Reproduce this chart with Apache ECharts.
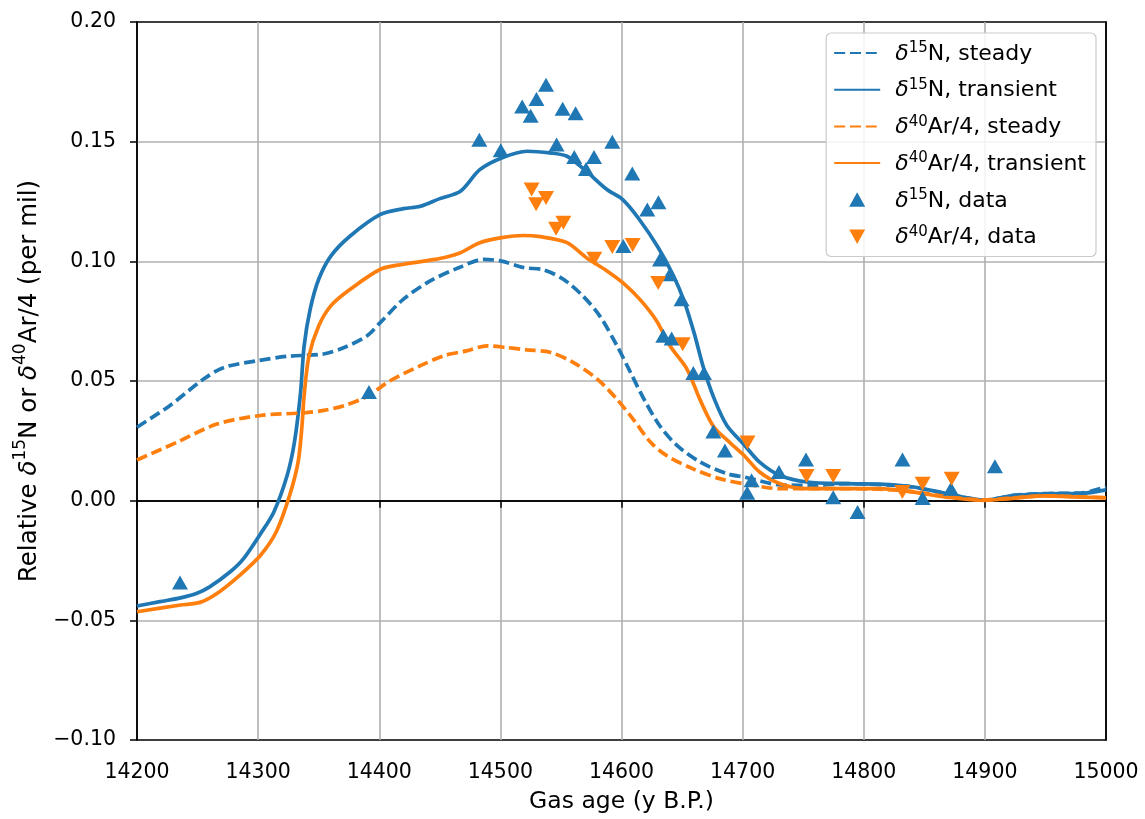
<!DOCTYPE html>
<html>
<head>
<meta charset="utf-8">
<script src="https://cdn.jsdelivr.net/npm/echarts@6/dist/echarts.min.js"></script>
<style>html,body{margin:0;padding:0;background:#fff;}#c{width:1145px;height:819px;}</style>
</head>
<body>
<div id="c"></div>
<script>
// ---- data ----
var xTicks = [14200, 14300, 14400, 14500, 14600, 14700, 14800, 14900, 15000];
var yTicks = [-0.10, -0.05, 0.00, 0.05, 0.10, 0.15, 0.20];

var n15SteadyX = [14200,14227,14255,14272,14300,14324,14354,14371,14390,14401,14420,14442,14466,14486,14501,14519,14536,14552,14568,14582,14596,14607,14619,14632,14646,14665,14687,14703,14731,14760,14786,14813,14841,14868,14900,14924,14951,14979,15000];
var n15SteadyY = [0.0307,0.0397,0.0508,0.0557,0.0585,0.0603,0.0613,0.0640,0.0689,0.0745,0.0842,0.0918,0.0974,0.1008,0.1001,0.0974,0.0964,0.0925,0.0856,0.0772,0.0650,0.0540,0.0420,0.0310,0.0230,0.0161,0.0113,0.0097,0.0066,0.0064,0.0071,0.0067,0.0057,0.0029,0.0003,0.0022,0.0030,0.0032,0.0058];

var n15TransX = [14200,14219,14236,14249,14260,14277,14288,14302,14313,14324,14330,14335,14338,14343,14350,14360,14376,14401,14420,14434,14450,14467,14483,14501,14522,14541,14555,14571,14588,14601,14614,14630,14643,14652,14660,14668,14677,14687,14701,14714,14731,14753,14786,14813,14841,14868,14900,14924,14951,14979,15000];
var n15TransY = [-0.0440,-0.0422,-0.0406,-0.0388,-0.0360,-0.0297,-0.0242,-0.0138,-0.0047,0.0106,0.0245,0.0450,0.0647,0.0800,0.0925,0.1022,0.1106,0.1196,0.1220,0.1230,0.1262,0.1293,0.1383,0.1432,0.1460,0.1453,0.1439,0.1376,0.1300,0.1258,0.1180,0.1060,0.0939,0.0830,0.0700,0.0550,0.0420,0.0314,0.0235,0.0161,0.0105,0.0078,0.0071,0.0069,0.0057,0.0030,0.0002,0.0022,0.0029,0.0030,0.0045];

var ar40SteadyX = [14200,14233,14266,14302,14338,14354,14371,14390,14409,14434,14453,14472,14489,14505,14522,14541,14560,14580,14596,14610,14624,14637,14659,14681,14703,14731,14772,14813,14841,14868,14900,14924,14951,14979,15000];
var ar40SteadyY = [0.0170,0.0244,0.0320,0.0356,0.0367,0.0377,0.0397,0.0436,0.0501,0.0564,0.0605,0.0626,0.0647,0.0640,0.0630,0.0620,0.0578,0.0508,0.0425,0.0338,0.0244,0.0189,0.0133,0.0092,0.0069,0.0050,0.0050,0.0048,0.0038,0.0018,0.0003,0.0012,0.0020,0.0016,0.0012];

var ar40TransX = [14200,14236,14252,14266,14285,14302,14315,14326,14333,14336,14338,14342,14350,14360,14376,14401,14420,14437,14453,14467,14483,14501,14519,14533,14555,14571,14588,14601,14615,14629,14640,14654,14665,14676,14690,14701,14714,14731,14753,14786,14813,14841,14868,14900,14924,14951,14979,15000];
var ar40TransY = [-0.0464,-0.0436,-0.0425,-0.0388,-0.0311,-0.0228,-0.0130,0.0022,0.0161,0.0300,0.0440,0.0605,0.0730,0.0814,0.0883,0.0967,0.0988,0.1001,0.1015,0.1036,0.1078,0.1099,0.1108,0.1103,0.1078,0.1015,0.0960,0.0911,0.0842,0.0751,0.0647,0.0550,0.0420,0.0310,0.0240,0.0190,0.0120,0.0071,0.0050,0.0050,0.0050,0.0036,0.0015,0.0001,0.0011,0.0020,0.0015,0.0012];

var n15DataX = [14235.5,14391.5,14482.6,14500.3,14518,14525,14529.8,14537.7,14546.4,14551.4,14561,14562.1,14570.7,14577.3,14592.4,14601.5,14608.9,14621.3,14630.5,14631.8,14640,14649.6,14634.5,14641.4,14659.3,14668.1,14675.8,14685.4,14703.8,14707.4,14730,14752.3,14774.8,14794.9,14832,14848.6,14872,14908.3];
var n15DataY = [-0.0342,0.0454,0.1508,0.1464,0.1647,0.1608,0.1678,0.1738,0.1488,0.1638,0.1436,0.1619,0.1386,0.1436,0.1500,0.1064,0.1367,0.1217,0.1247,0.1008,0.0946,0.0842,0.0689,0.0678,0.0533,0.0533,0.0289,0.0210,0.0033,0.0085,0.0120,0.0172,0.0014,-0.0047,0.0172,0.0011,0.0050,0.0144];

var ar40DataX = [14525.8,14529.5,14537.7,14546,14552,14577.5,14592.4,14609.2,14630.3,14650.5,14704,14752.8,14774.8,14831.9,14848.6,14872.6];
var ar40DataY = [0.1300,0.1238,0.1265,0.1136,0.1161,0.1011,0.1060,0.1068,0.0909,0.0654,0.0243,0.0103,0.0103,0.0036,0.0071,0.0092];

var seriesNames = ['δ15N, steady','δ15N, transient','δ40Ar/4, steady','δ40Ar/4, transient','δ15N, data','δ40Ar/4, data'];

// ---- build ----
function zip(xs, ys){ return xs.map(function(x,i){ return [x, ys[i]]; }); }
var BLUE = '#1f77b4', ORANGE = '#ff7f0e';
var FONT = 'DejaVu Sans';

function richName(s){
  return s.replace(/δ(\d+)/g, function(m, d){ return '{d|δ}{s|' + d + '}'; })
          .replace(/(^|\})([^{}]+)(?=\{|$)/g, function(m, pre, txt){ return pre + '{n|' + txt + '}'; });
}
function richStyles(fs, lh){
  return {
    n: { fontFamily: FONT, fontSize: fs, color: '#000', lineHeight: lh, verticalAlign: 'bottom' },
    d: { fontFamily: FONT, fontSize: fs, fontStyle: 'italic', color: '#000', lineHeight: lh, verticalAlign: 'bottom' },
    s: { fontFamily: FONT, fontSize: Math.round(fs * 0.7), color: '#000', lineHeight: lh, verticalAlign: 'top' }
  };
}

var chart = echarts.init(document.getElementById('c'), null, {renderer:'canvas'});
var LW = 3.7;
var dash = [11, 4.8];
var upTri = 'path://M0,0L0.01,0M46,16L46.01,16M15,15L23,0.5L31,15Z';
var downTri = 'path://M0,0L0.01,0M46,16L46.01,16M15,1L31,1L23,15.5Z';
var spine = { show: true, lineStyle: { color: '#000', width: 1.5 } };

var option = {
  backgroundColor: '#fff',
  animation: false,
  grid: { left: 137, right: 39, top: 22, bottom: 77, show: true, borderColor: '#000', borderWidth: 1.5, backgroundColor: 'transparent' },
  xAxis: [{
    type: 'value', min: xTicks[0], max: xTicks[xTicks.length-1], interval: 100,
    name: 'Gas age (y B.P.)', nameLocation: 'middle', nameGap: 50,
    nameTextStyle: { fontFamily: FONT, fontSize: 23.5, color: '#000' },
    axisLine: spine,
    axisTick: { show: true, length: 7, lineStyle: { color: '#000', width: 1.5 } },
    axisLabel: { fontFamily: FONT, fontSize: 20.5, color: '#000', margin: 22, formatter: function(v){ return String(v); } },
    splitLine: { show: true, showMinLine: false, showMaxLine: false, lineStyle: { color: '#b0b0b0', width: 1.6 } },
    z: 1
  }, {
    type: 'value', position: 'top', min: xTicks[0], max: xTicks[xTicks.length-1], interval: 100,
    axisLine: spine, axisTick: { show: false }, axisLabel: { show: false }, splitLine: { show: false }, z: 1
  }],
  yAxis: [{
    type: 'value', min: yTicks[0], max: yTicks[yTicks.length-1], interval: 0.05,
    name: '{n|Relative }{d|δ}{s|15}{n|N or }{d|δ}{s|40}{n|Ar/4 (per mil)}', nameLocation: 'middle', nameGap: 92, nameRotate: 90,
    nameTextStyle: { fontFamily: FONT, fontSize: 24.5, color: '#000', rich: richStyles(24.5, 30) },
    axisLine: spine,
    axisTick: { show: true, length: 7, lineStyle: { color: '#000', width: 1.5 } },
    axisLabel: { fontFamily: FONT, fontSize: 20.5, color: '#000', margin: 21,
      formatter: function(v){ var s = Math.abs(v).toFixed(2); return (v < -1e-9 ? '\u2212' : '') + s; } },
    splitLine: { show: true, showMinLine: false, showMaxLine: false, lineStyle: { color: '#b0b0b0', width: 1.6 } },
    z: 1
  }, {
    type: 'value', position: 'right', min: yTicks[0], max: yTicks[yTicks.length-1], interval: 0.05,
    axisLine: spine, axisTick: { show: false }, axisLabel: { show: false }, splitLine: { show: false }, z: 1
  }],
  legend: {
    orient: 'vertical', right: 49, top: 33,
    backgroundColor: 'rgba(255,255,255,0.85)', borderColor: '#cccccc', borderWidth: 1.2, borderRadius: 5,
    padding: [8, 10, 8, 7], itemGap: 12.7, itemWidth: 46, itemHeight: 16,
    data: [
      { name: seriesNames[0], itemStyle: { opacity: 0 } },
      { name: seriesNames[1], itemStyle: { opacity: 0 } },
      { name: seriesNames[2], itemStyle: { opacity: 0 } },
      { name: seriesNames[3], itemStyle: { opacity: 0 } },
      { name: seriesNames[4], icon: upTri },
      { name: seriesNames[5], icon: downTri }
    ],
    formatter: function(name){ return richName(name); },
    textStyle: { fontFamily: FONT, fontSize: 22, color: '#000', padding: [0,0,0,10], rich: richStyles(22, 24) }
  },
  series: [
    { name: seriesNames[0], type: 'line', xAxisIndex: 0, yAxisIndex: 0, data: zip(n15SteadyX, n15SteadyY), showSymbol: false, symbol: 'none', smooth: 0.3, z: 2,
      lineStyle: { color: BLUE, width: LW, type: dash }, itemStyle: { color: BLUE } },
    { name: seriesNames[1], type: 'line', xAxisIndex: 0, yAxisIndex: 0, data: zip(n15TransX, n15TransY), showSymbol: false, symbol: 'none', smooth: 0.3, z: 2,
      lineStyle: { color: BLUE, width: LW }, itemStyle: { color: BLUE } },
    { name: seriesNames[2], type: 'line', xAxisIndex: 0, yAxisIndex: 0, data: zip(ar40SteadyX, ar40SteadyY), showSymbol: false, symbol: 'none', smooth: 0.3, z: 2,
      lineStyle: { color: ORANGE, width: LW, type: dash }, itemStyle: { color: ORANGE } },
    { name: seriesNames[3], type: 'line', xAxisIndex: 0, yAxisIndex: 0, data: zip(ar40TransX, ar40TransY), showSymbol: false, symbol: 'none', smooth: 0.3, z: 2,
      lineStyle: { color: ORANGE, width: LW }, itemStyle: { color: ORANGE } },
    { name: seriesNames[4], type: 'scatter', xAxisIndex: 0, yAxisIndex: 0, data: zip(n15DataX, n15DataY), symbol: 'triangle', symbolSize: [16, 14], z: 3,
      itemStyle: { color: BLUE, opacity: 1 } },
    { name: seriesNames[5], type: 'scatter', xAxisIndex: 0, yAxisIndex: 0, data: zip(ar40DataX, ar40DataY), symbol: 'triangle', symbolRotate: 180, symbolSize: [16, 14], z: 3,
      itemStyle: { color: ORANGE, opacity: 1 } }
  ]
};
chart.setOption(option);
</script>
</body>
</html>
